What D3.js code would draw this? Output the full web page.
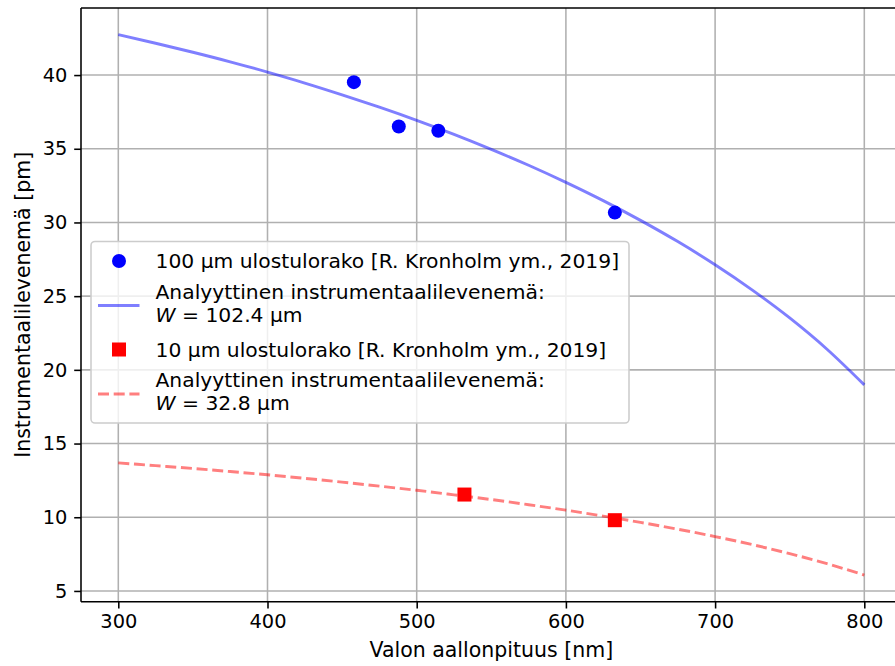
<!DOCTYPE html>
<html><head><meta charset="utf-8">
<script src="https://cdn.jsdelivr.net/npm/d3@7"></script>
<style>
body{margin:0;background:#fff}
svg{display:block}
text{font-family:"DejaVu Sans",sans-serif;fill:#000}
</style></head>
<body><svg id="c" width="895" height="666"></svg>
<script>
// ---- data ----
const xTicks = [300, 400, 500, 600, 700, 800];
const yTicks = [5, 10, 15, 20, 25, 30, 35, 40];
const fitWavelengths = [300,325,350,375,400,425,450,475,500,525,550,575,600,625,650,675,700,725,750,775,800];
const fitWide   = [42.74,42.16,41.55,40.90,40.20,39.46,38.66,37.82,36.93,35.98,34.96,33.88,32.72,31.48,30.14,28.70,27.13,25.41,23.52,21.40,18.98];
const fitNarrow = [13.69,13.50,13.31,13.10,12.88,12.64,12.38,12.11,11.83,11.52,11.20,10.85,10.48,10.08,9.65,9.19,8.69,8.14,7.53,6.85,6.08];
const wideLambda = [457.9, 488.0, 514.5, 632.8];
const wideValues = [39.52, 36.51, 36.22, 30.67];
const narrowLambda = [532.0, 632.8];
const narrowValues = [11.54, 9.80];
const legendLabels = [
  ["100 µm ulostulorako [R. Kronholm ym., 2019]"],
  ["Analyyttinen instrumentaalilevenemä:", "102.4"],
  ["10 µm ulostulorako [R. Kronholm ym., 2019]"],
  ["Analyyttinen instrumentaalilevenemä:", "32.8"]
];
const xLabel = "Valon aallonpituus [nm]";
const yLabel = "Instrumentaalilevenemä [pm]";

// ---- layout ----
const FS = 19.4, LFS = 20.5, GFS = 20.3;
const L = 81, R = 901.6, T = 8, B = 601.7;
const svg = d3.select("#c");
const x = d3.scaleLinear().domain([275, 825]).range([L, R]);
const y = d3.scaleLinear().domain([4.27, 44.55]).range([B, T]);

svg.append("defs").append("clipPath").attr("id","clip")
  .append("rect").attr("x",L).attr("y",T).attr("width",R-L).attr("height",B-T);

// grid
const grid = svg.append("g");
grid.selectAll("line.gx").data(xTicks).join("line")
  .attr("x1",d=>x(d)).attr("x2",d=>x(d)).attr("y1",T).attr("y2",B)
  .attr("stroke","#b0b0b0").attr("stroke-width",1.56);
grid.selectAll("line.gy").data(yTicks).join("line")
  .attr("y1",d=>y(d)).attr("y2",d=>y(d)).attr("x1",L).attr("x2",R)
  .attr("stroke","#b0b0b0").attr("stroke-width",1.56);

const plot = svg.append("g").attr("clip-path","url(#clip)");
const line = d3.line().curve(d3.curveMonotoneX);
const wideLine = fitWavelengths.map((w,i)=>[x(w), y(fitWide[i])]);
const narrowLine = fitWavelengths.map((w,i)=>[x(w), y(fitNarrow[i])]);
plot.append("path").attr("d", line(wideLine)).attr("fill","none")
  .attr("stroke","#0000ff").attr("stroke-opacity",0.5).attr("stroke-width",2.9);
plot.append("path").attr("d", line(narrowLine)).attr("fill","none")
  .attr("stroke","#ff0000").attr("stroke-opacity",0.5).attr("stroke-width",2.9)
  .attr("stroke-dasharray","11,4.7");

plot.selectAll("circle.w").data(wideLambda).join("circle")
  .attr("cx",d=>x(d)).attr("cy",(d,i)=>y(wideValues[i])).attr("r",7)
  .attr("fill","#0000ff");
plot.selectAll("rect.n").data(narrowLambda).join("rect")
  .attr("x",d=>x(d)-7).attr("y",(d,i)=>y(narrowValues[i])-7).attr("width",14).attr("height",14)
  .attr("fill","#ff0000");

// axes
const ax = svg.append("g");
ax.append("line").attr("x1",L).attr("x2",R).attr("y1",T).attr("y2",T).attr("stroke","#000").attr("stroke-width",1.56);
ax.append("line").attr("x1",L).attr("x2",R).attr("y1",B).attr("y2",B).attr("stroke","#000").attr("stroke-width",1.56);
ax.append("line").attr("x1",L).attr("x2",L).attr("y1",T).attr("y2",B).attr("stroke","#000").attr("stroke-width",1.56);

const xa = svg.append("g").attr("transform",`translate(0,${B})`)
  .call(d3.axisBottom(x).tickValues(xTicks).tickSize(6.8).tickPadding(5.5).tickFormat(d3.format("d")));
const ya = svg.append("g").attr("transform",`translate(${L},0)`)
  .call(d3.axisLeft(y).tickValues(yTicks).tickSize(6.8).tickPadding(6.8).tickFormat(d3.format("d")));
[xa, ya].forEach(g=>{
  g.select(".domain").remove();
  g.selectAll(".tick line").attr("stroke","#000").attr("stroke-width",1.56);
  g.selectAll(".tick text").attr("font-size",FS).attr("font-family","DejaVu Sans").attr("fill","#000");
});

svg.append("text").attr("x",(L+R)/2).attr("y",657).attr("text-anchor","middle")
  .attr("font-size",LFS).text(xLabel);
svg.append("text").attr("transform",`translate(22.5,${(T+B)/2}) rotate(-90)`)
  .attr("text-anchor","middle").attr("dominant-baseline","central")
  .attr("font-size",LFS).text(yLabel);

// legend
const lg = svg.append("g");
lg.append("rect").attr("x",91).attr("y",241.5).attr("width",538).attr("height",181.5)
  .attr("rx",4).attr("fill","#fff").attr("fill-opacity",0.8)
  .attr("stroke","#cccccc").attr("stroke-width",1.56);
const tx = 155.5;
lg.append("circle").attr("cx",119).attr("cy",261).attr("r",7).attr("fill","#0000ff");
lg.append("text").attr("x",tx).attr("y",261).attr("dy","0.35em").attr("font-size",GFS).text(legendLabels[0][0]);

lg.append("line").attr("x1",98).attr("x2",139.5).attr("y1",305.5).attr("y2",305.5)
  .attr("stroke","#0000ff").attr("stroke-opacity",0.5).attr("stroke-width",2.9);
lg.append("text").attr("x",tx).attr("y",291.5).attr("dy","0.35em").attr("font-size",GFS).text(legendLabels[1][0]);
const w1 = lg.append("text").attr("x",tx).attr("y",314.5).attr("dy","0.35em").attr("font-size",GFS);
w1.append("tspan").attr("font-style","italic").text("W");
w1.append("tspan").text(" = " + legendLabels[1][1] + " µm");

lg.append("rect").attr("x",112).attr("y",342.5).attr("width",14).attr("height",14).attr("fill","#ff0000");
lg.append("text").attr("x",tx).attr("y",349.5).attr("dy","0.35em").attr("font-size",GFS).text(legendLabels[2][0]);

lg.append("line").attr("x1",98).attr("x2",139.5).attr("y1",394).attr("y2",394)
  .attr("stroke","#ff0000").attr("stroke-opacity",0.5).attr("stroke-width",2.9).attr("stroke-dasharray","11,4.7");
lg.append("text").attr("x",tx).attr("y",380).attr("dy","0.35em").attr("font-size",GFS).text(legendLabels[3][0]);
const w2 = lg.append("text").attr("x",tx).attr("y",403).attr("dy","0.35em").attr("font-size",GFS);
w2.append("tspan").attr("font-style","italic").text("W");
w2.append("tspan").text(" = " + legendLabels[3][1] + " µm");
</script></body></html>
